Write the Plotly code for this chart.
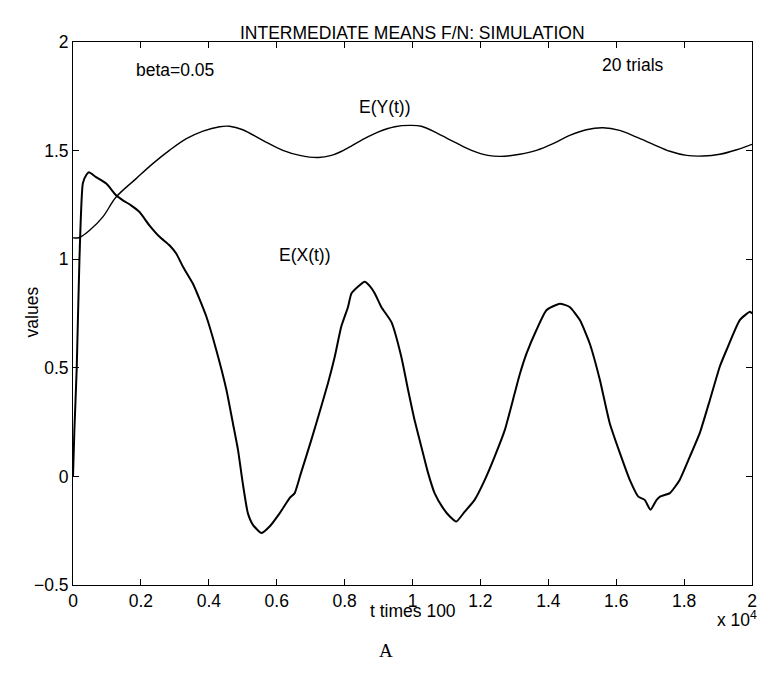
import plotly.graph_objects as go

# t in units of 10^4
t_y = [0.0, 0.019, 0.049, 0.088, 0.127, 0.186, 0.235, 0.284, 0.334, 0.383, 0.432, 0.461,
       0.50, 0.559, 0.618, 0.668, 0.722, 0.761, 0.80, 0.849, 0.898, 0.948, 0.992, 1.026,
       1.075, 1.124, 1.174, 1.222, 1.272, 1.316, 1.365, 1.414, 1.463, 1.512, 1.561, 1.61,
       1.66, 1.709, 1.758, 1.807, 1.856, 1.905, 1.955, 2.0]
e_y = [1.098, 1.10, 1.133, 1.195, 1.286, 1.371, 1.44, 1.501, 1.555, 1.59, 1.61, 1.612,
       1.596, 1.547, 1.501, 1.478, 1.468, 1.478, 1.504, 1.547, 1.585, 1.61, 1.616, 1.612,
       1.578, 1.539, 1.501, 1.478, 1.474, 1.483, 1.501, 1.532, 1.57, 1.596, 1.605, 1.593,
       1.562, 1.529, 1.497, 1.478, 1.475, 1.483, 1.504, 1.529]

t_x = [0.0, 0.004, 0.011, 0.019, 0.029, 0.040, 0.047, 0.068, 0.098, 0.127, 0.147, 0.171,
       0.196, 0.225, 0.255, 0.284, 0.304, 0.324, 0.353, 0.373, 0.393, 0.422, 0.452, 0.471,
       0.486, 0.50, 0.515, 0.53, 0.555, 0.579, 0.609, 0.638, 0.653, 0.670, 0.702, 0.731,
       0.751, 0.771, 0.79, 0.81, 0.82, 0.839, 0.859, 0.875, 0.889, 0.908, 0.938, 0.967,
       0.987, 1.006, 1.026, 1.046, 1.065, 1.09, 1.11, 1.129, 1.154, 1.183, 1.213, 1.242,
       1.272, 1.301, 1.316, 1.336, 1.365, 1.395, 1.434, 1.463, 1.493, 1.522, 1.552, 1.581,
       1.611, 1.64, 1.665, 1.684, 1.701, 1.719, 1.729, 1.758, 1.787, 1.817, 1.846, 1.876,
       1.905, 1.925, 1.964, 1.994, 2.0]
e_x = [0.0, 0.21, 0.5, 1.0, 1.35, 1.39, 1.40, 1.378, 1.348, 1.294, 1.271, 1.248,
       1.217, 1.156, 1.103, 1.064, 1.026, 0.965, 0.888, 0.815, 0.735, 0.582, 0.398, 0.245,
       0.122, -0.031, -0.169, -0.223, -0.261, -0.231, -0.169, -0.10, -0.077, 0.008, 0.168, 0.321,
       0.429, 0.551, 0.689, 0.78, 0.842, 0.873, 0.896, 0.875, 0.842, 0.78, 0.71, 0.551,
       0.398, 0.26, 0.137, 0.015, -0.077, -0.146, -0.185, -0.208, -0.162, -0.108, -0.016, 0.091,
       0.214, 0.383, 0.47, 0.566, 0.674, 0.766, 0.795, 0.78, 0.72, 0.612, 0.444, 0.245,
       0.107, -0.016, -0.093, -0.108, -0.154, -0.108, -0.093, -0.077, -0.016, 0.091, 0.199, 0.352,
       0.505, 0.582, 0.72, 0.758, 0.75]

x_ticks = [0, 0.2, 0.4, 0.6, 0.8, 1.0, 1.2, 1.4, 1.6, 1.8, 2.0]
x_ticklabels = ["0", "0.2", "0.4", "0.6", "0.8", "1", "1.2", "1.4", "1.6", "1.8", "2"]
y_ticks = [-0.5, 0, 0.5, 1, 1.5, 2]
y_ticklabels = ["\u22120.5", "0", "0.5", "1", "1.5", "2"]

FONT = "Liberation Sans, Arial, Helvetica, sans-serif"
FS = 17.5

fig = go.Figure()
fig.add_trace(go.Scatter(x=t_y, y=e_y, mode="lines", line=dict(color="black", width=1.4),
                         line_shape="spline", showlegend=False))
fig.add_trace(go.Scatter(x=t_x, y=e_x, mode="lines",
                         line=dict(color="black", width=2, shape="spline", smoothing=0.5),
                         showlegend=False))

axis_common = dict(showline=True, linecolor="black", linewidth=1, mirror="ticks",
                   ticks="inside", ticklen=6, tickcolor="black", showgrid=False,
                   zeroline=False, automargin=False,
                   tickfont=dict(family=FONT, size=FS, color="black"))
fig.update_xaxes(range=[0, 2], tickvals=x_ticks, ticktext=x_ticklabels, **axis_common)
fig.update_yaxes(range=[-0.5, 2], tickvals=y_ticks, ticktext=y_ticklabels, **axis_common)

ann = []
def A(text, x, y, xref="x", yref="y", **kw):
    d = dict(text=text, x=x, y=y, xref=xref, yref=yref, showarrow=False,
             font=dict(family=FONT, size=FS, color="black"))
    d.update(kw)
    ann.append(d)

A("beta=0.05", 0.30, 1.869)
A("20 trials", 1.65, 1.895)
A("E(Y(t))", 0.918, 1.70)
A("E(X(t))", 0.682, 1.018)
A("INTERMEDIATE MEANS F/N: SIMULATION", 0.5, 1.039, "paper", "paper")
A("t times 100", 0.5, -0.07, "paper", "paper")
A("values", -0.078, 0.502, "paper", "paper", textangle=-90)
A("x 10<sup>4</sup>", 0.9455, -0.087, "paper", "paper", xanchor="left")
A("A", 0.4617, -0.1436, "paper", "paper",
  font=dict(family="Liberation Serif, Times New Roman, serif", size=19, color="black"))

fig.update_layout(width=757, height=677, margin=dict(l=73, r=5, t=42, b=92, autoexpand=False),
                  plot_bgcolor="white", paper_bgcolor="white", annotations=ann)

fig.write_html("out.html")
